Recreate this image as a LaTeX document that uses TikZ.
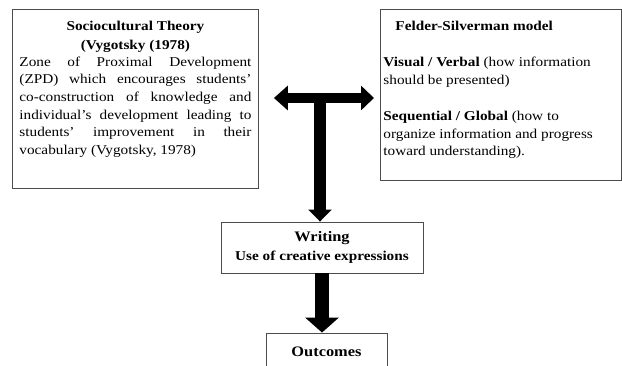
\documentclass[tikz,border=0pt]{standalone}
\usepackage{fontspec}
\setmainfont{Liberation Serif}[FakeStretch=1.13]
\usetikzlibrary{arrows.meta,calc}
\begin{document}
\begin{tikzpicture}[x=1pt,y=-1pt,
  box/.style={draw=black!70, line width=0.9pt, fill=white}]
\useasboundingbox (0,0) rectangle (622,366);

\node[box, anchor=north west, inner xsep=7pt, inner ysep=0pt] (socio) at (12,9)
 {\parbox[c][179pt][t]{232pt}{\fontsize{13.5}{19}\selectfont\vspace*{11.9pt}%
 {\centering\bfseries Sociocultural Theory\\(Vygotsky (1978)\par}
 \fontsize{13.5}{17.6}\selectfont\vspace{-1.1pt}%
 Zone of Proximal Development\linebreak
 (ZPD) which encourages students’\linebreak
 co-construction of knowledge and\linebreak
 individual’s development leading to\linebreak
 students’ improvement in their\linebreak
 vocabulary (Vygotsky, 1978)}};

\node[box, anchor=north west, inner xsep=3pt, inner ysep=0pt] (felder) at (380,9)
 {\parbox[c][171pt][t]{235pt}{\fontsize{13.5}{17.6}\selectfont\raggedright\vspace*{11.9pt}%
 \hspace*{12pt}\textbf{Felder-Silverman model}\par\vspace{18.6pt}
 \textbf{Visual / Verbal} (how information\\
 should be presented)\par\vspace{18.6pt}
 \textbf{Sequential / Global} (how to\\
 organize information and progress\\
 toward understanding).}};

\node[box, minimum width=202pt, minimum height=51pt, align=center,
  font=\fontsize{13.5}{18.5}\selectfont\bfseries] (writing) at (322,247.5)
 {{\fontsize{14.5}{18.5}\selectfont Writing}\\Use of creative expressions};

\node[box, minimum width=121pt, minimum height=38pt,
  font=\fontsize{14.5}{16}\selectfont\bfseries] (outcomes) at (326.5,352) {Outcomes};

\coordinate (jn) at (320,98);
\draw[line width=10pt, {Triangle[length=14pt,width=24pt]}-{Triangle[length=13pt,width=24pt]},
  shorten <=15pt, shorten >=6pt] (socio.east |- jn) -- (felder.west |- jn);
\draw[line width=12pt, -{Triangle[length=12pt,width=23pt]}] (jn) -- (jn |- writing.north);
\draw[line width=14pt, -{Triangle[length=15pt,width=33pt]}] (writing.south) -- (writing.south |- outcomes.north);
\end{tikzpicture}
\end{document}
